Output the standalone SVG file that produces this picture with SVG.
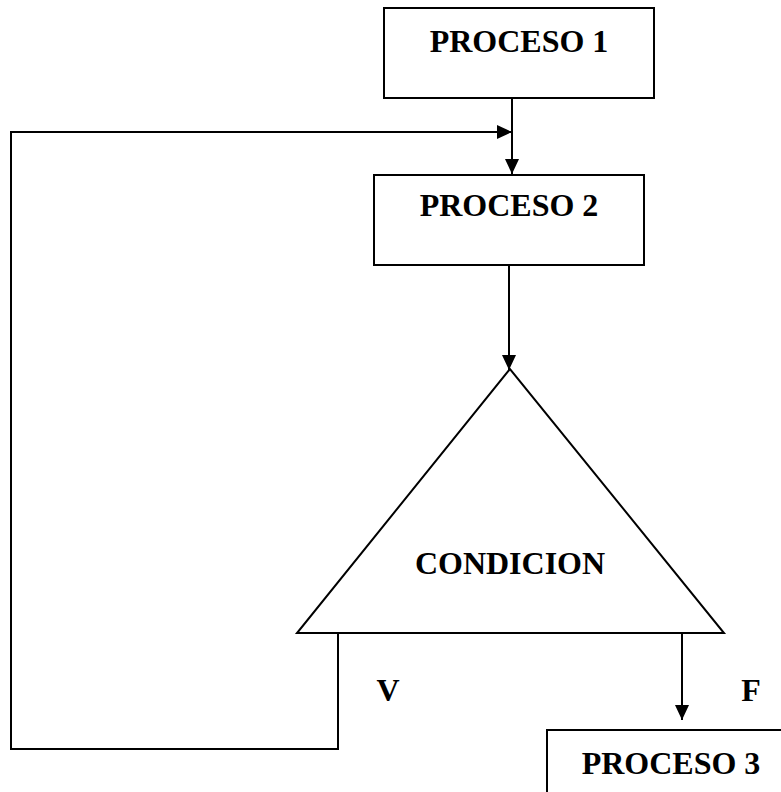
<svg xmlns="http://www.w3.org/2000/svg" width="781" height="792" viewBox="0 0 781 792">
  <style>
    .shape { fill: #ffffff; stroke: #000000; stroke-width: 2; }
    .wire { fill: none; stroke: #000000; stroke-width: 2; }
    .label { font-family: "Liberation Serif", "Times New Roman", serif; font-weight: bold; font-size: 32px; fill: #000000; }
  </style>
  <defs>
    <marker id="arrow" viewBox="0 0 15 14" refX="15" refY="7" markerWidth="15" markerHeight="14" markerUnits="userSpaceOnUse" orient="auto">
      <path d="M0,0 L15,7 L0,14 Z" fill="#000000"/>
    </marker>
  </defs>
  <rect width="781" height="792" fill="#ffffff"/>

  <g id="proceso1">
    <rect class="shape" x="384" y="8" width="270" height="90"/>
    <text class="label" x="519" y="52" text-anchor="middle">PROCESO 1</text>
  </g>

  <g id="proceso2">
    <rect class="shape" x="374" y="175" width="270" height="90"/>
    <text class="label" x="509" y="216" text-anchor="middle">PROCESO 2</text>
  </g>

  <g id="condicion">
    <polygon class="shape" points="510,369 297,633 724,633"/>
    <text class="label" x="510" y="574" text-anchor="middle">CONDICION</text>
  </g>

  <g id="proceso3">
    <rect class="shape" x="547" y="730" width="250" height="80"/>
    <text class="label" x="671" y="774" text-anchor="middle">PROCESO 3</text>
  </g>

  <g id="connectors">
    <line class="wire" x1="512" y1="98" x2="512" y2="174" marker-end="url(#arrow)"/>
    <polyline class="wire" points="338,634 338,749 11,749 11,132 512,132" marker-end="url(#arrow)"/>
    <line class="wire" x1="509" y1="265" x2="509" y2="370" marker-end="url(#arrow)"/>
    <line class="wire" x1="682" y1="634" x2="682" y2="720" marker-end="url(#arrow)"/>
  </g>

  <g id="branch-labels">
    <text class="label" x="388" y="701" text-anchor="middle">V</text>
    <text class="label" x="751" y="701" text-anchor="middle">F</text>
  </g>
</svg>
